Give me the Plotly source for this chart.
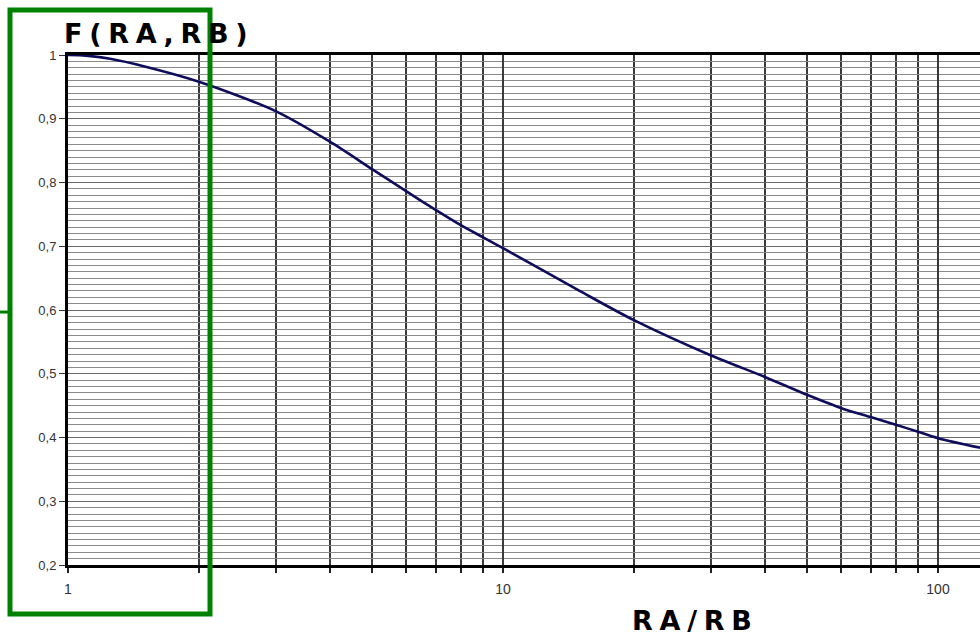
import plotly.graph_objects as go

# Data
ratio = [1, 1.1, 1.25, 1.5, 2, 3, 4, 5, 6, 7, 8, 9, 10, 15, 20, 30, 40, 50, 60, 70, 80, 90, 100, 125]
f_values = [1.0, 0.999, 0.994, 0.982, 0.958, 0.912, 0.864, 0.821, 0.786, 0.757, 0.733, 0.714, 0.697,
            0.630, 0.584, 0.529, 0.495, 0.467, 0.446, 0.432, 0.420, 0.409, 0.399, 0.384]

y_tickvals = [0.2, 0.3, 0.4, 0.5, 0.6, 0.7, 0.8, 0.9, 1.0]
y_ticktext = ["0,2", "0,3", "0,4", "0,5", "0,6", "0,7", "0,8", "0,9", "1"]
x_tickvals = [1, 10, 100]
x_ticktext = ["1", "10", "100"]
x_minor_vals = [2, 3, 4, 5, 6, 7, 8, 9, 20, 30, 40, 50, 60, 70, 80, 90, 200]

sp = "\u2005"
title_text = sp.join("F(RA,RB)")
xtitle_text = sp.join("RA/RB")

fig = go.Figure()
fig.add_trace(go.Scatter(
    x=ratio, y=f_values, mode="lines",
    line=dict(color="#0d0d5c", width=2.6, shape="spline", smoothing=0.8),
    showlegend=False, hoverinfo="skip",
))

fig.update_xaxes(
    type="log", range=[0, 2.0966],
    tickvals=x_tickvals, ticktext=x_ticktext,
    tickfont=dict(family="Liberation Sans", size=14, color="#333333"),
    ticks="outside", ticklen=5, tickcolor="#222", tickwidth=1.5,
    ticklabelstandoff=4,
    showgrid=True, gridcolor="#3a3a3a", gridwidth=1.5,
    minor=dict(tickvals=x_minor_vals, showgrid=True, gridcolor="#3a3a3a", gridwidth=1.5,
               ticks="outside", ticklen=5, tickcolor="#222", tickwidth=1.5),
    showline=True, linecolor="black", linewidth=3, mirror=True,
    zeroline=False,
)
fig.update_yaxes(
    range=[0.2, 1.0],
    tickvals=y_tickvals, ticktext=y_ticktext,
    tickfont=dict(family="Liberation Sans", size=13, color="#333333"),
    ticks="outside", ticklen=6, tickcolor="#333", tickwidth=1,
    showgrid=True, gridcolor="#6a6a6a", gridwidth=1,
    minor=dict(dtick=0.01, showgrid=True, gridcolor="#8a8a8a", gridwidth=1, ticks=""),
    showline=True, linecolor="black", linewidth=3,
    zeroline=False,
)

fig.update_layout(
    width=980, height=639,
    margin=dict(l=68, r=0, t=55, b=74),
    paper_bgcolor="white", plot_bgcolor="white",
    annotations=[
        dict(text="<b>" + title_text + "</b>", xref="paper", yref="paper",
             x=-0.0066, y=1.008, xanchor="left", yanchor="bottom", showarrow=False,
             font=dict(family="DejaVu Sans", size=27, color="black")),
        dict(text="<b>" + xtitle_text + "</b>", xref="paper", yref="paper",
             x=0.684, y=-0.074, xanchor="center", yanchor="top", showarrow=False,
             font=dict(family="DejaVu Sans", size=27, color="black")),
    ],
    shapes=[
        dict(type="rect", xref="paper", yref="paper",
             x0=-0.0636, x1=0.1557, y0=-0.096, y1=1.088,
             line=dict(color="#008000", width=5), fillcolor="rgba(0,0,0,0)", layer="above"),
        dict(type="line", xref="paper", yref="paper",
             x0=-0.0746, x1=-0.0636, y0=0.496, y1=0.496,
             line=dict(color="#008000", width=3), layer="above"),
    ],
)

fig.write_html("out.html")
